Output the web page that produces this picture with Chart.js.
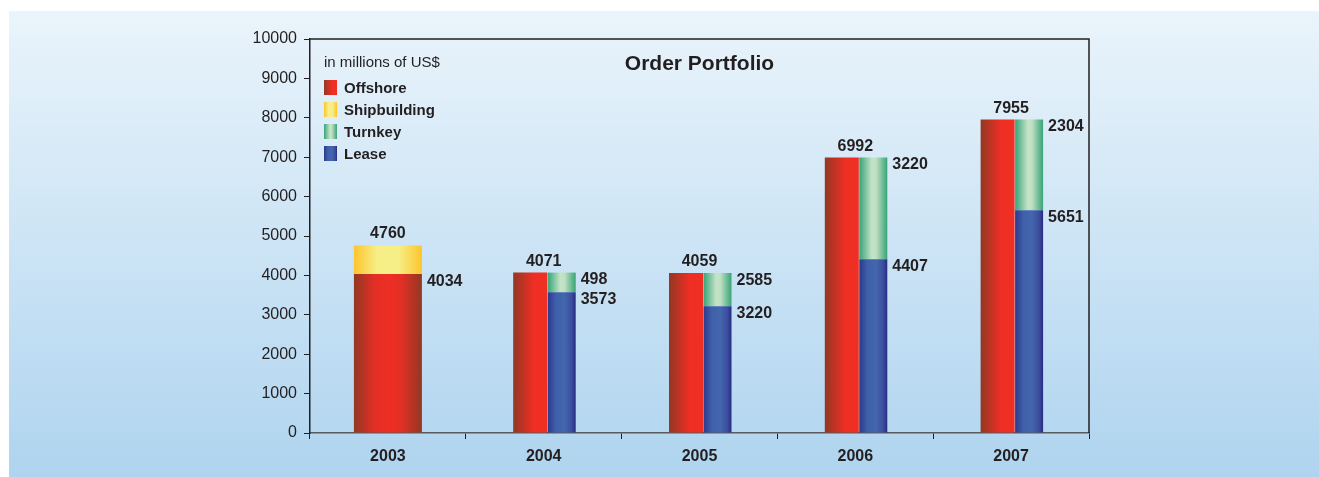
<!DOCTYPE html>
<html>
<head>
<meta charset="utf-8">
<script src="https://cdn.jsdelivr.net/npm/chart.js@4.4.0/dist/chart.umd.min.js"></script>
<style>
  html, body { margin: 0; padding: 0; background: #fff; }
  canvas { display: block; }
</style>
</head>
<body>
<canvas id="myChart" width="1319" height="477"></canvas>
<script>
// data
var years = ["2003", "2004", "2005", "2006", "2007"];
var offshore = [4034, 4071, 4059, 6992, 7955];
var shipbuilding = [726, null, null, null, null];
var lease = [null, 3573, 3220, 4407, 5651];
var turnkey = [null, 498, 839, 2585, 2304];
var yTicks = [0, 1000, 2000, 3000, 4000, 5000, 6000, 7000, 8000, 9000, 10000];

// value labels as printed in the original (a few don't match the bar heights)
var totalLabels = ["4760", "4071", "4059", "6992", "7955"];
var offshoreLabels = ["4034", "", "", "", ""];
var leaseLabels = ["", "3573", "3220", "4407", "5651"];
var turnkeyLabels = ["", "498", "2585", "3220", "2304"];
var legendOrder = ["Offshore", "Shipbuilding", "Turnkey", "Lease"];

var FONT = "'Liberation Sans', Arial, Helvetica, sans-serif";
var INK = "#231f20";

// horizontal shading stops for the "cylinder" look
var shades = {
    red: [[0, "#923823"], [0.3, "#e22f25"], [0.5, "#ef2e24"], [0.7, "#e22f25"], [1, "#923823"]],
    redHalf: [[0, "#923823"], [0.6, "#ef2e24"], [1, "#ef2e24"]],
    yellow: [[0, "#fdc52c"], [0.35, "#f6ef88"], [0.65, "#f6ef88"], [1, "#fdc52c"]],
    green: [[0, "#37a477"], [0.45, "#c4e3c7"], [0.6, "#bfe0c3"], [1, "#37a477"]],
    blue: [[0, "#2b3a8c"], [0.3, "#3f60aa"], [0.6, "#4466ae"], [0.85, "#3a4f9e"], [1, "#2a2a84"]]
};

function hGrad(ctx, x0, x1, st) {
    var g = ctx.createLinearGradient(x0, 0, x1, 0);
    st.forEach(function (s) { g.addColorStop(s[0], s[1]); });
    return g;
}

var decor = {
    id: "decor",
    beforeDraw: function (chart) {
        var c = chart.ctx;
        var g = c.createLinearGradient(0, 11, 0, chart.height);
        g.addColorStop(0, "#eaf4fb");
        g.addColorStop(1, "#afd4ef");
        c.save();
        c.fillStyle = g;
        c.fillRect(9, 11, chart.width - 9, chart.height - 11);
        c.restore();
    },
    beforeDatasetsDraw: function (chart) {
        chart.data.datasets.forEach(function (ds, di) {
            chart.getDatasetMeta(di).data.forEach(function (bar, i) {
                var st = ds.shade;
                // the 2003 offshore bar stands alone, so it gets the full cylinder
                if (ds.shadeAlone && lease[i] == null) st = ds.shadeAlone;
                // options can be shared between bars, so give each bar its own copy
                bar.options = Object.assign({}, bar.options, {
                    backgroundColor: hGrad(chart.ctx, bar.x - bar.width / 2, bar.x + bar.width / 2, st)
                });
            });
        });
    },
    afterDatasetsDraw: function (chart) {
        var c = chart.ctx, a = chart.chartArea;
        c.save();
        // top and right frame lines
        c.strokeStyle = INK;
        c.lineWidth = 1.5;
        c.beginPath();
        c.moveTo(a.left, a.top);
        c.lineTo(a.right, a.top);
        c.lineTo(a.right, a.bottom);
        c.stroke();

        c.fillStyle = INK;
        c.font = "bold 16px " + FONT;
        c.textBaseline = "alphabetic";

        // totals above each group
        c.textAlign = "center";
        years.forEach(function (y, i) {
            var top = Infinity;
            chart.data.datasets.forEach(function (ds, di) {
                if (ds.data[i] == null) return;
                top = Math.min(top, chart.getDatasetMeta(di).data[i].y);
            });
            c.fillText(totalLabels[i], chart.scales.x.getPixelForValue(i), top - 7);
        });

        // labels to the right of the bars
        c.textAlign = "left";
        chart.data.datasets.forEach(function (ds, di) {
            if (!ds.rightLabels) return;
            chart.getDatasetMeta(di).data.forEach(function (bar, i) {
                var t = ds.rightLabels[i];
                if (!t) return;
                c.fillText(t, bar.x + bar.width / 2 + 5, bar.y + 11.5);
            });
        });

        // title
        c.textAlign = "center";
        c.font = "bold 21px " + FONT;
        c.fillText("Order Portfolio", (a.left + a.right) / 2, a.top + 30.5);

        // legend
        var lx = a.left + 14;
        c.textAlign = "left";
        c.font = "15px " + FONT;
        c.fillText("in millions of US$", lx, a.top + 27.5);
        c.font = "bold 15px " + FONT;
        legendOrder.forEach(function (name, k) {
            var ds = chart.data.datasets.filter(function (d) { return d.label === name; })[0];
            var base = a.top + 53.5 + k * 22;
            c.fillStyle = hGrad(c, lx, lx + 13, ds.shade);
            c.fillRect(lx, base - 12.5, 13, 15);
            c.fillStyle = INK;
            c.fillText(name, lx + 20, base);
        });
        c.restore();
    }
};

var redPct = { categoryPercentage: 0.3466, barPercentage: 1.259 };
var stackPct = { categoryPercentage: 0.4621, barPercentage: 0.7778 };

var ctx = document.getElementById("myChart").getContext("2d");
var myChart = new Chart(ctx, {
    type: "bar",
    data: {
        labels: years,
        datasets: [
            Object.assign({ label: "Offshore", data: offshore, stack: "a", shade: shades.redHalf, shadeAlone: shades.red, rightLabels: offshoreLabels }, redPct),
            Object.assign({ label: "Shipbuilding", data: shipbuilding, stack: "a", shade: shades.yellow }, redPct),
            Object.assign({ label: "Lease", data: lease, stack: "b", shade: shades.blue, rightLabels: leaseLabels }, stackPct),
            Object.assign({ label: "Turnkey", data: turnkey, stack: "b", shade: shades.green, rightLabels: turnkeyLabels }, stackPct)
        ]
    },
    options: {
        responsive: false,
        animation: false,
        layout: { padding: { left: 0, top: 39, right: 230, bottom: 0 } },
        datasets: { bar: { backgroundColor: "#ef2e24", borderWidth: 0, skipNull: true } },
        plugins: {
            legend: { display: false },
            tooltip: { enabled: false }
        },
        scales: {
            x: {
                stacked: true,
                afterFit: function (s) { s.height = 44; },
                grid: { drawOnChartArea: false, drawTicks: true, tickLength: 6, color: INK, offset: true },
                border: { display: true, color: "#5b5b5b", width: 1.5 },
                ticks: { color: INK, font: { family: FONT, size: 16, weight: "bold" }, padding: 8 }
            },
            y: {
                stacked: true,
                min: 0,
                max: 10000,
                afterFit: function (s) { s.width = 310; },
                afterBuildTicks: function (s) { s.ticks = yTicks.map(function (v) { return { value: v }; }); },
                grid: { drawOnChartArea: false, drawTicks: true, tickLength: 6, color: INK },
                border: { display: true, color: INK, width: 1.5 },
                ticks: {
                    color: INK,
                    font: { family: FONT, size: 16 },
                    padding: 7,
                    callback: function (v) { return String(v); }
                }
            }
        }
    },
    plugins: [decor]
});
</script>
</body>
</html>
